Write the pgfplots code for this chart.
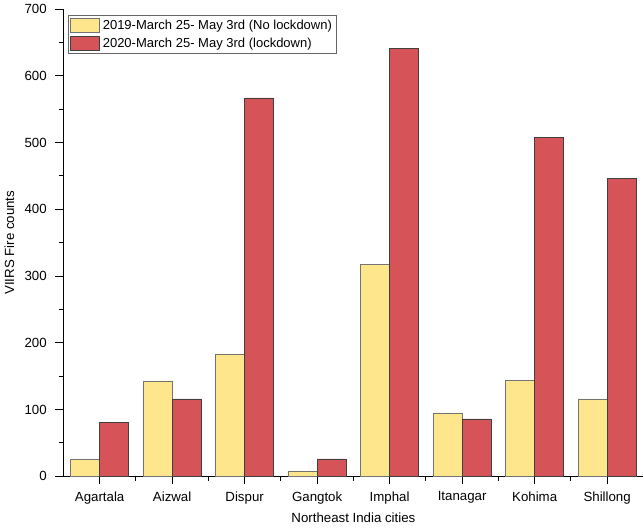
\documentclass[border=0pt]{standalone}
\usepackage{pgfplots}
\pgfplotsset{compat=1.18}
\usepackage{fontspec}
\setmainfont{Liberation Sans}
\definecolor{yel}{RGB}{254,230,141}
\definecolor{redd}{RGB}{214,84,88}
\begin{document}
\begin{tikzpicture}
\begin{axis}[
    scale only axis,
    width=437pt, height=352pt,
    xmin=-0.5, xmax=7.5,
    ymin=0, ymax=700,
    axis lines=left,
    axis line style={-, line width=0.9pt},
    tick align=outside,
    xtick={0,...,7},
    xticklabels={Agartala,Aizwal,Dispur,Gangtok,Imphal,Itanagar,Kohima,Shillong},
    minor xtick={0.5,1.5,...,6.5},
    ytick={0,100,...,700},
    minor ytick={50,150,...,650},
    major tick length=6pt,
    minor tick length=3.5pt,
    tick style={line width=0.8pt, black},
    ticklabel style={font=\fontsize{10}{12}\selectfont},
    yticklabel style={xshift=-3pt},
    xticklabel style={yshift=-2pt},
    /pgf/number format/assume math mode=true,
    xlabel={Northeast India cities},
    ylabel={VIIRS Fire counts},
    label style={font=\fontsize{10}{12}\selectfont},
    xlabel style={yshift=0pt},
    ylabel style={yshift=1pt},
    ybar=0pt,
    bar width=0.4,
    legend style={at={(0.008,0.988)}, anchor=north west, draw=black!60,
        font=\fontsize{9.8}{11}\selectfont, inner sep=1.5pt, row sep=1pt,
        cells={anchor=west}},
    legend image code/.code={\draw[#1] (0pt,-5.5pt) rectangle (22pt,5.5pt);},
]
\addplot[fill=yel, draw=black!55, line width=0.5pt] coordinates {
    (0,25) (1,143) (2,183) (3,8) (4,318) (5,95) (6,144) (7,116)};
\addlegendentry{2019-March 25- May 3rd (No lockdown)}
\addplot[fill=redd, draw=black!75, line width=0.5pt] coordinates {
    (0,81) (1,116) (2,567) (3,26) (4,641) (5,86) (6,508) (7,446)};
\addlegendentry{2020-March 25- May 3rd (lockdown)}
\end{axis}
\end{tikzpicture}
\end{document}
